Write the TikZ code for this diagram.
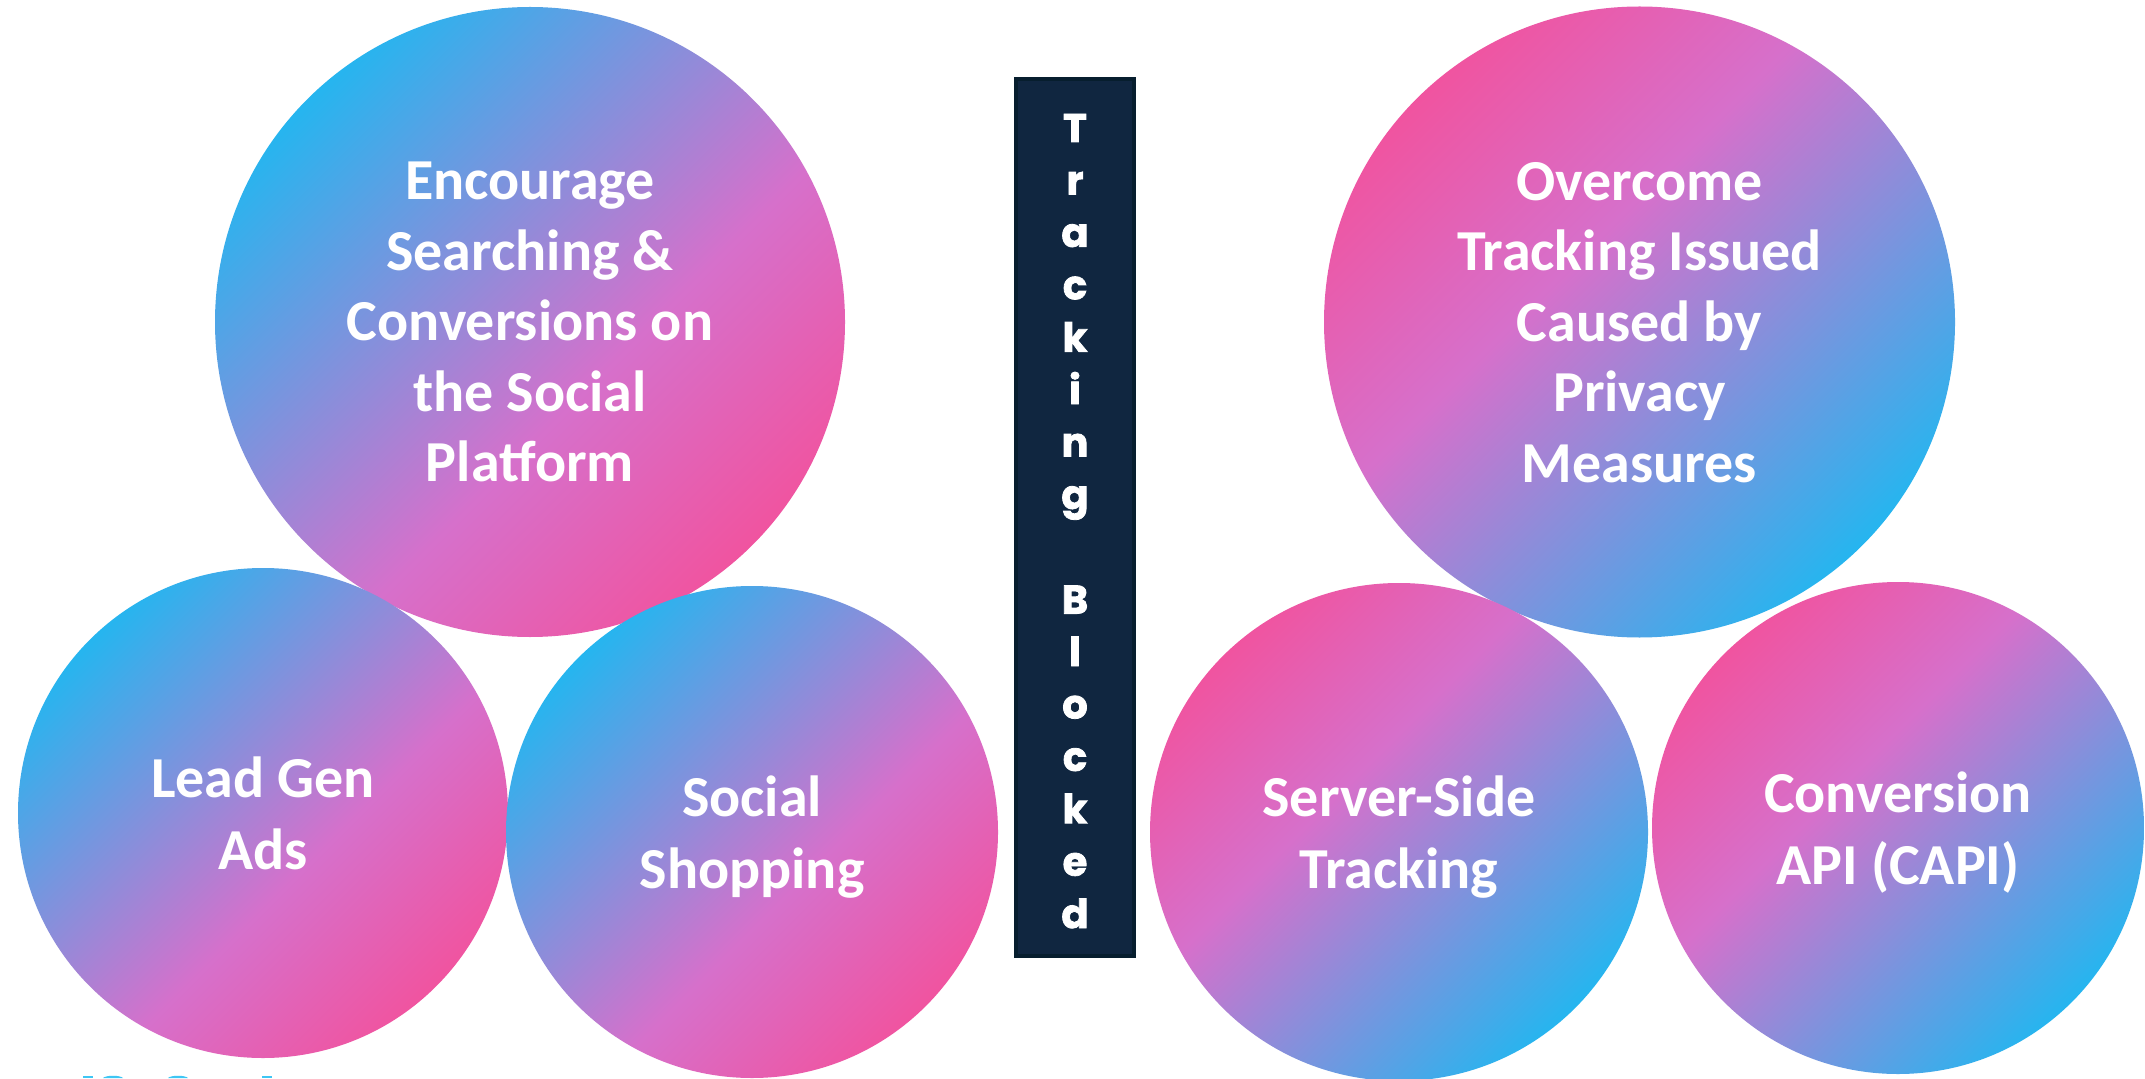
\documentclass[tikz,border=0pt]{standalone}
\usepackage{fontspec}
\setmainfont{Carlito}
\newfontfamily\barfont{Poppins}[BoldFeatures={FakeBold=2}]

\definecolor{gcyan}{RGB}{38,181,239}
\definecolor{gorchid}{RGB}{214,112,203}
\definecolor{gpink}{RGB}{240,84,160}
\definecolor{barfill}{RGB}{16,38,64}
\definecolor{baredge}{RGB}{7,30,46}
\definecolor{markcyan}{RGB}{62,198,244}

% diagonal gradients: the band 25bp..75bp spans the circle's diameter
\pgfdeclarehorizontalshading{cyanpink}{100bp}{color(0bp)=(gcyan); color(25bp)=(gcyan); color(57bp)=(gorchid); color(75bp)=(gpink); color(100bp)=(gpink)}
\pgfdeclarehorizontalshading{pinkcyan}{100bp}{color(0bp)=(gpink); color(25bp)=(gpink); color(43bp)=(gorchid); color(75bp)=(gcyan); color(100bp)=(gcyan)}

\begin{document}
\begin{tikzpicture}[x=0.5pt,y=0.5pt,
  bubble/.style={circle, inner sep=0pt, minimum size=#1pt, shade, shading angle=-45,
    text=white, align=center, text depth=0pt,
    font=\bfseries\fontsize{29}{36}\selectfont},
  cool/.style={shading=cyanpink},
  warm/.style={shading=pinkcyan},
  bigtext/.style={font=\bfseries\fontsize{29}{35.25}\selectfont},
  bar/.style={draw=baredge, line width=2pt, fill=barfill, inner sep=0pt,
    minimum width=59pt, minimum height=438.5pt},
  letter/.style={anchor=base, inner sep=0pt, text=white,
    font=\barfont\bfseries\fontsize{20}{20}\selectfont}]

\useasboundingbox (0,0) rectangle (2145,1078);
\fill[white] (0,0) rectangle (2145,1078);

% upper goal bubbles
\node[bubble=315, cool, bigtext] (encourage) at (530,756)
  {Encourage\\Searching \&\\Conversions on\\the Social\\Platform};
\node[bubble=315.5, warm, bigtext] (overcome) at (1639.5,756)
  {Overcome\\Tracking Issued\\Caused by\\Privacy\\Measures};

% lower tactic bubbles
\node[bubble=245, cool] (leadgen) at (263,265) {Lead Gen\\Ads};
\node[bubble=246, cool] (shopping) at (752,246) {Social\\Shopping};
\node[bubble=249, warm] (serverside) at (1399,246) {Server-Side\\Tracking};
\node[bubble=246, warm] (capi) at (1898,250) {Conversion\\API (CAPI)};

% central divider with stacked letters
\node[bar] (divider) at (1075,560.5) {};
\foreach \k/\ch in {0/T,1/r,2/a,3/c,4/k,5/i,6/n,7/g,9/B,10/l,11/o,12/c,13/k,14/e,15/d}
  \node[letter] (ltr\k) at (1075,{936-52.4*\k}) {\ch};

% cut-off marks along the lower edge
\fill[markcyan] (83,0) rectangle (93,2.5);
\fill[markcyan] (103,0) .. controls (106,3) and (120,3) .. (123,0) -- cycle;
\fill[markcyan] (168,0) .. controls (171,3) and (185,3) .. (188,0) -- cycle;
\fill[markcyan] (262,0) rectangle (272,2.5);
\end{tikzpicture}
\end{document}
